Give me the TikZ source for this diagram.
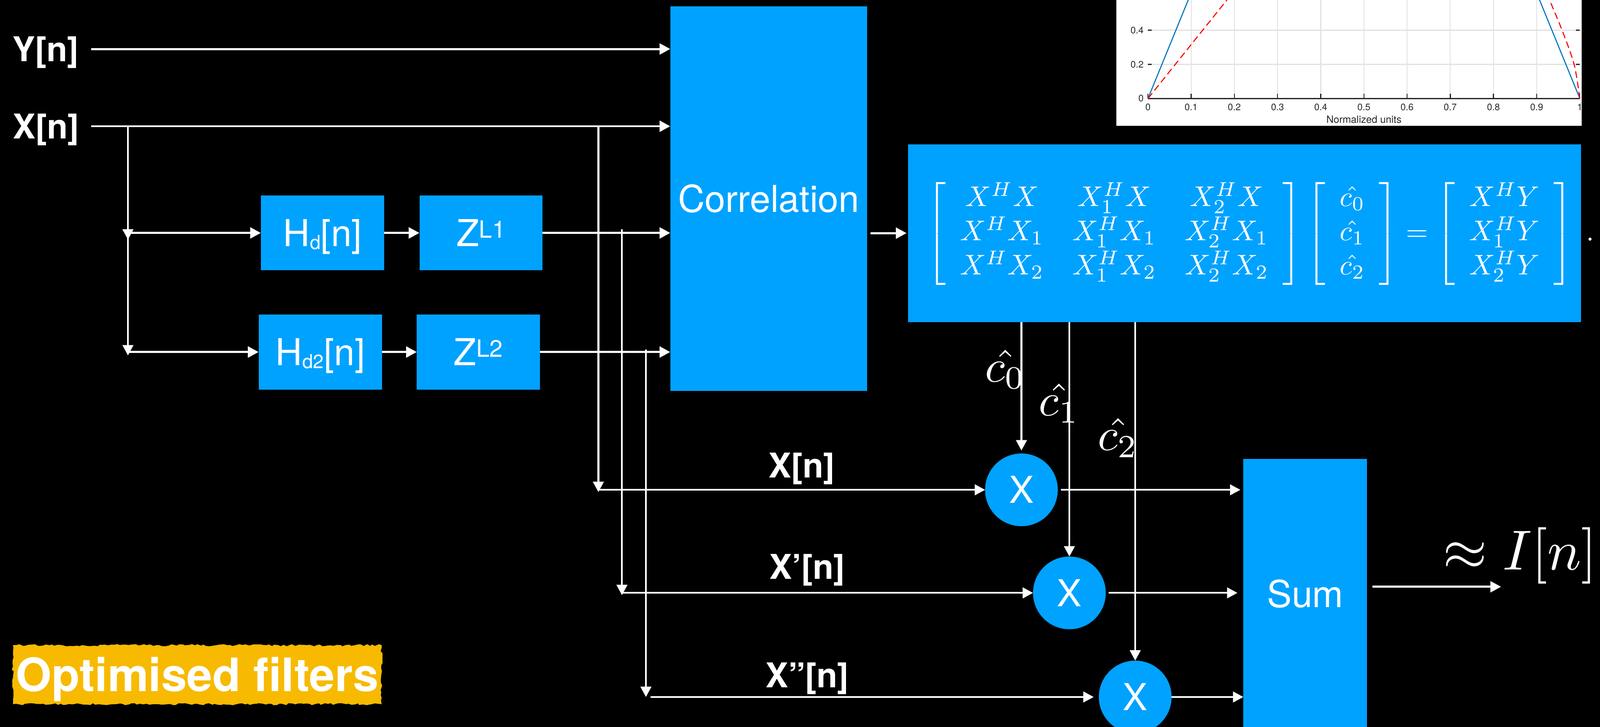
\documentclass[tikz,border=0pt]{standalone}
\usepackage{fontspec}
\usepackage{amsmath}
\usetikzlibrary{arrows.meta,calc,decorations.pathmorphing}
\newfontfamily\hv{TeX Gyre Heros}
\definecolor{kblue}{HTML}{00A2FF}
\definecolor{kyellow}{HTML}{F7BA00}
\definecolor{mblue}{HTML}{0072BD}
\definecolor{axgray}{HTML}{262626}
\definecolor{gridc}{HTML}{E2E2E2}
\newcommand\subtxt[1]{\raisebox{-2pt}{\fontsize{13}{13}\selectfont #1}}
\newcommand\suptxt[1]{\raisebox{5.6pt}{\fontsize{16}{16}\selectfont #1}}
\begin{document}
\begin{tikzpicture}[x=0.02417cm,y=-0.02417cm,
  box/.style={rectangle, fill=kblue, inner sep=0pt, outer sep=0pt, text=white,
    font=\hv\fontsize{25}{30}\selectfont, text height=18pt, text depth=0pt},
  mult/.style={circle, fill=kblue, minimum size=49pt, inner sep=0pt, outer sep=0pt,
    text=white, font=\hv\fontsize{25}{30}\selectfont, text height=18pt, text depth=0pt},
  lab/.style={text=white, inner sep=0pt, font=\hv\bfseries\fontsize{23}{28}\selectfont,
    text height=16.5pt, text depth=0pt},
  mathlab/.style={text=white, inner sep=0pt},
  arr/.style={draw=white, line width=1.4pt, -{Triangle[length=7.2pt,width=7.4pt]}},
  tarr/.style={draw=white, line width=1.2pt, -{Triangle[length=7pt,width=7.2pt]}},
  ticklab/.style={text=axgray, inner sep=0pt, font=\hv\fontsize{6.3}{7}\selectfont}
]
\useasboundingbox (0,0) rectangle (1568,712.4);
\fill[black] (0,0) rectangle (1568,712.4);

% ---------- plot (top right) ----------
\begin{scope}
  \clip (1094,-2) rectangle (1550,123.2);
  \fill[white] (1094,-2) rectangle (1550,123.2);
  \begin{scope}[shift={(1125,96.5)}, x=10.229cm, y=4.036cm]
    \foreach \g in {0.1,0.2,0.3,0.4,0.5,0.6,0.7,0.8,0.9}
      \draw[gridc, line width=0.6pt] (\g,0) -- (\g,0.7);
    \foreach \g in {0.2,0.4,0.6}
      \draw[gridc, line width=0.9pt] (0,\g) -- (1,\g);
    \draw[axgray, line width=0.8pt] (0,0) -- (1,0);
    \foreach \g in {0,0.1,0.2,0.3,0.4,0.5,0.6,0.7,0.8,0.9,1}
      \draw[axgray, line width=0.7pt] (\g,0) -- (\g,0.029);
    \foreach \g in {0.2,0.4}{
      \draw[axgray, line width=0.9pt] (0,\g) -- (0.009,\g);
      \draw[axgray, line width=0.9pt] (1,\g) -- (0.991,\g);
    }
    \draw[mblue, line width=0.7pt] (0,0) -- (0.11,0.682);
    \draw[mblue, line width=0.7pt] (1,0) -- (0.89,0.682);
    \draw[red, line width=0.7pt, dash pattern=on 4.5pt off 2.5pt] (0,0) -- (0.215,0.68);
    \draw[red, line width=0.7pt, dash pattern=on 4.5pt off 2.5pt]
      plot[smooth] coordinates {(1,0) (0.9868,0.2) (0.959,0.4) (0.93,0.578) (0.915,0.68)};
    \foreach \g/\t [count=\i] in {0/0,0.1/0.1,0.2/0.2,0.3/0.3,0.4/0.4,0.5/0.5,0.6/0.6,0.7/0.7,0.8/0.8,0.9/0.9,1/1}
      \node[ticklab] (xt\i) at (\g,-0.05) {\t};
    \foreach \g/\t [count=\i] in {0/0,0.2/0.2,0.4/0.4}
      \node[ticklab, anchor=east] (yt\i) at (-0.0095,\g) {\t};
    \node[ticklab, font=\hv\fontsize{6.8}{8}\selectfont] (xlab) at (0.5,-0.123) {Normalized units};
  \end{scope}
\end{scope}

% ---------- blocks ----------
\node[box, minimum width=132.7pt, minimum height=259.1pt] (corr) at (753.3,194.65) {Correlation};
\node[box, minimum width=83.2pt, minimum height=50.4pt] (hd1) at (316.1,228.25) {H\subtxt{d}[n]};
\node[box, minimum width=82.9pt, minimum height=50.4pt] (z1) at (471.3,228.25) {Z\suptxt{L1}};
\node[box, minimum width=83.2pt, minimum height=50.7pt] (hd2) at (313.9,344.95) {H\subtxt{d2}[n]};
\node[box, minimum width=82.9pt, minimum height=50.7pt] (z2) at (468.7,344.95) {Z\suptxt{L2}};
\node[box, minimum width=453.7pt, minimum height=119.7pt] (mat) at (1219.6,228.45) {};
\node[box, minimum width=83.4pt, minimum height=182.1pt] (sum) at (1279.1,582.1) {Sum};

\node[mathlab, anchor=west] (eq) at (908,229) {\scalebox{1.92}{$\left[\begin{array}{ccc}
  X^HX & X_1^HX & X_2^HX \\
  X^HX_1 & X_1^HX_1 & X_2^HX_1 \\
  X^HX_2 & X_1^HX_2 & X_2^HX_2
\end{array}\right]
\left[\begin{array}{c} \hat{c_0} \\ \hat{c_1} \\ \hat{c_2} \end{array}\right]
=
\left[\begin{array}{c} X^HY \\ X_1^HY \\ X_2^HY \end{array}\right]\hspace{3pt}.$}};

\node[mult] (m1) at (1001,480) {X};
\node[mult] (m2) at (1048,581) {X};
\node[mult] (m3) at (1112.5,683) {X};

% ---------- labels ----------
\node[lab, anchor=base west] (yin) at (12,60) {Y[n]};
\node[lab, anchor=base west] (xin) at (12.2,135.7) {X[n]};
\node[lab, anchor=base] (xa) at (785.6,468) {X[n]};
\node[lab, anchor=base] (xb) at (791,567.3) {X’[n]};
\node[lab, anchor=base] (xc) at (791,673.6) {X”[n]};

\node[mathlab, anchor=base west] (c0) at (965,374) {\scalebox{3.1}{$\hat{c_0}$}};
\node[mathlab, anchor=base west] (c1) at (1017.8,407.5) {\scalebox{3.1}{$\hat{c_1}$}};
\node[mathlab, anchor=base west] (c2) at (1075.7,441.3) {\scalebox{3.1}{$\hat{c_2}$}};
\node[mathlab, anchor=base] (outlab) at (1489.6,558.5) {\scalebox{3.8}{$\approx I[n]$}};

\node[rectangle, minimum width=248.5pt, minimum height=39.7pt, inner sep=0pt, outer sep=0pt, fill=kyellow,
  decorate, decoration={random steps,segment length=2pt,amplitude=0.7pt},
  text=white, font=\hv\bfseries\fontsize{31}{36}\selectfont, text height=22.3pt, text depth=0pt]
  (opt) at (193.3,661.15) {Optimised filters};

% ---------- connectors ----------
\draw[arr, shorten <=8pt] (yin.east) -- (yin.east -| corr.west);
\draw[arr, shorten <=8pt] (xin.east) -- (xin.east -| corr.west);

\coordinate (j0) at (125.4,0 |- xin.east);
\coordinate (j1) at (j0 |- hd1.west);
\coordinate (j2) at (j0 |- hd2.west);
\draw[tarr, shorten >=-4.5pt] (j0) -- (j1);
\draw[tarr, shorten >=-2.3pt] (j1) -- (j2);
\draw[arr] (j1) -- (hd1.west);
\draw[arr] (j2) -- (hd2.west);
\draw[arr] (hd1) -- (z1);
\draw[arr] (z1) -- (z1 -| corr.west);
\draw[arr] (hd2) -- (z2);
\draw[arr] (z2) -- (z2 -| corr.west);

\coordinate (t0) at (586.4,0 |- xin.east);
\coordinate (ta) at (t0 |- m1);
\draw[tarr, shorten >=-1.5pt] (t0) -- (ta);
\draw[tarr] (ta) -- (m1);
\coordinate (t1) at (609.5,0 |- z1);
\coordinate (tb) at (t1 |- m2);
\draw[tarr, shorten <=-2.5pt, shorten >=-1.5pt] (t1) -- (tb);
\draw[tarr] (tb) -- (m2);
\coordinate (t2) at (633,0 |- z2);
\coordinate (tc) at (t2 |- m3);
\draw[tarr, shorten <=-1.7pt] (t2) -- (tc);
\draw[tarr, shorten <=3pt, shorten >=3.5pt] (tc) -- (m3);

\draw[arr, shorten <=2.4pt, shorten >=0.9pt] (corr.east |- mat.west) -- (mat.west);

\draw[tarr, shorten >=2pt] (mat.south -| m1) -- (m1);
\draw[tarr] (mat.south -| m2) -- (m2);
\draw[tarr] (mat.south -| m3) -- (m3);

\draw[tarr, shorten <=2pt, shorten >=2pt] (m1) -- (m1 -| sum.west);
\draw[tarr, shorten <=2pt, shorten >=4pt] (m2) -- (m2 -| sum.west);
\draw[tarr] (m3) -- (m3 -| sum.west);

\coordinate (outend) at (1471,575);
\draw[arr, shorten <=3.6pt] (sum.east |- outend) -- (outend);
\end{tikzpicture}
\end{document}
